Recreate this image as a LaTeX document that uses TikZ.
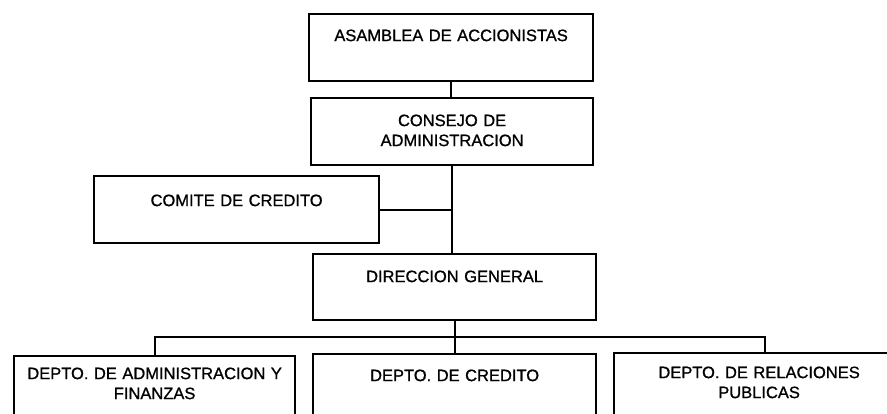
\documentclass[tikz,border=0pt]{standalone}
\usepackage{fontspec}
\setmainfont{Liberation Sans}
\newfontfamily\scanfont{Liberation Sans}[FakeBold=1]
\usepackage{tikz}
\usetikzlibrary{positioning,calc}
\tikzset{
    every picture/.style={line width=2.2pt},
    unidad/.style={rectangle,draw,anchor=north west,inner sep=0pt,align=center,
        font=\scanfont\fontsize{16.5}{20}\selectfont,text width=283pt,text height=28pt,text depth=39pt},
    depto/.style={unidad,text height=25pt,text depth=90pt}
}

\begin{document}
\begin{tikzpicture}[x=1pt,y=-1pt]
    \useasboundingbox (0,0) rectangle (887,413);
    \clip (0,0) rectangle (887,413);

    % upper levels
    \node[unidad,text width=284pt,text height=27pt,text depth=40pt] (asamblea) at (308,13) {ASAMBLEA DE ACCIONISTAS};
    \node[unidad,text width=282pt] (consejo) at (310,97) {CONSEJO DE\\ADMINISTRACION};
    \node[unidad,text width=285pt,text height=30pt,text depth=37pt] (comite) at (93,175) {COMITE DE CREDITO};
    \node[unidad,text depth=38pt] (direccion) at (312,253) {DIRECCION GENERAL};

    % departments
    \node[depto,text width=281pt,text height=23pt] (admin) at (13,355) {DEPTO. DE ADMINISTRACION Y\\FINANZAS};
    \node[depto,text height=27pt] (credito) at (312,353) {DEPTO. DE CREDITO};
    \node[depto,text width=290pt] (relaciones) at (613,352) {DEPTO. DE RELACIONES\\PUBLICAS};

    \coordinate (bus) at ($(direccion.south)!0.5!(credito.north)$);
    \coordinate (relDrop) at ([xshift=6pt]relaciones.north);

    % connectors
    \draw (asamblea.south) -- (asamblea.south |- consejo.north);
    \draw (consejo.south) -- (consejo.south |- direccion.north);
    \draw (comite.east) -- (comite.east -| consejo.south);
    \draw (direccion.south) -- (credito.north);
    \draw (admin.north) |- (relDrop |- bus) -- (relDrop);
\end{tikzpicture}
\end{document}
